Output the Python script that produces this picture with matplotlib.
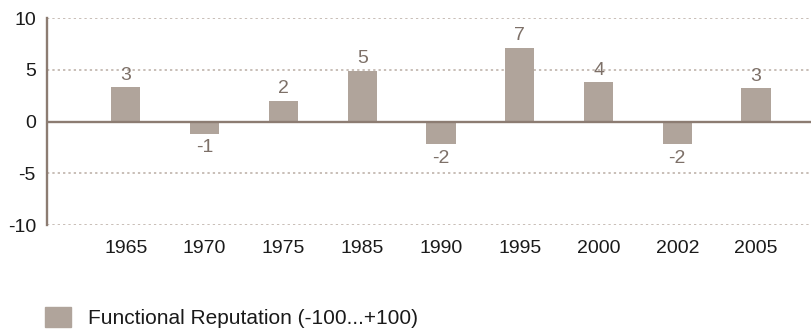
import matplotlib
matplotlib.use('agg')
import matplotlib.pyplot as plt
from matplotlib.patches import Patch

years = ['1965', '1970', '1975', '1985', '1990', '1995', '2000', '2002', '2005']
reputation = [3.3, -1.2, 2.0, 4.9, -2.2, 7.1, 3.8, -2.2, 3.2]
yticks = [-10, -5, 0, 5, 10]
series_name = 'Functional Reputation (-100...+100)'

bar_color = '#b0a49b'
axis_color = '#8c7c72'
grid_color = '#b9aca3'
label_color = '#7d7068'

plt.rcParams['font.family'] = ['Liberation Sans', 'DejaVu Sans']

fig = plt.figure(figsize=(8.12, 3.34), dpi=100)
ax = fig.add_axes([0.058, 0.326, 0.942, 0.62])

x = list(range(len(years)))
ax.bar(x, reputation, width=0.37, color=bar_color, zorder=2)

for xi, v in zip(x, reputation):
    if v >= 0:
        ax.text(xi, v + 0.35, f'{v:.0f}', ha='center', va='bottom',
                fontsize=14, color=label_color)
    else:
        ax.text(xi, v - 0.5, f'{v:.0f}', ha='center', va='top',
                fontsize=14, color=label_color)

# dotted grid, solid zero line
for t in yticks:
    if t == 0:
        ax.axhline(0, color=axis_color, lw=1.7, zorder=3)
    else:
        ax.axhline(t, color=grid_color, lw=1.1, ls=(0, (1.5, 2)), zorder=1)

ax.set_xlim(-1.0, 8.71)
ax.set_ylim(-10, 10)
ax.set_yticks(yticks)
ax.set_yticklabels([str(t) for t in yticks], fontsize=14, color='#1a1a1a')
ax.set_xticks(x)
ax.set_xticklabels(years, fontsize=14, color='#1a1a1a')
ax.tick_params(axis='both', length=0)
ax.tick_params(axis='x', pad=11)
ax.tick_params(axis='y', pad=8)

for side in ['top', 'right', 'bottom']:
    ax.spines[side].set_visible(False)
ax.spines['left'].set_color(axis_color)
ax.spines['left'].set_linewidth(1.7)

fig.legend(handles=[Patch(color=bar_color, label=series_name)],
           loc='center left', bbox_to_anchor=(0.0554, 0.049), frameon=False,
           borderpad=0, borderaxespad=0,
           fontsize=15, handlelength=1.25, handleheight=1.1, handletextpad=0.82,
           labelcolor='#1a1a1a')

plt.savefig('out.png', dpi=100)
